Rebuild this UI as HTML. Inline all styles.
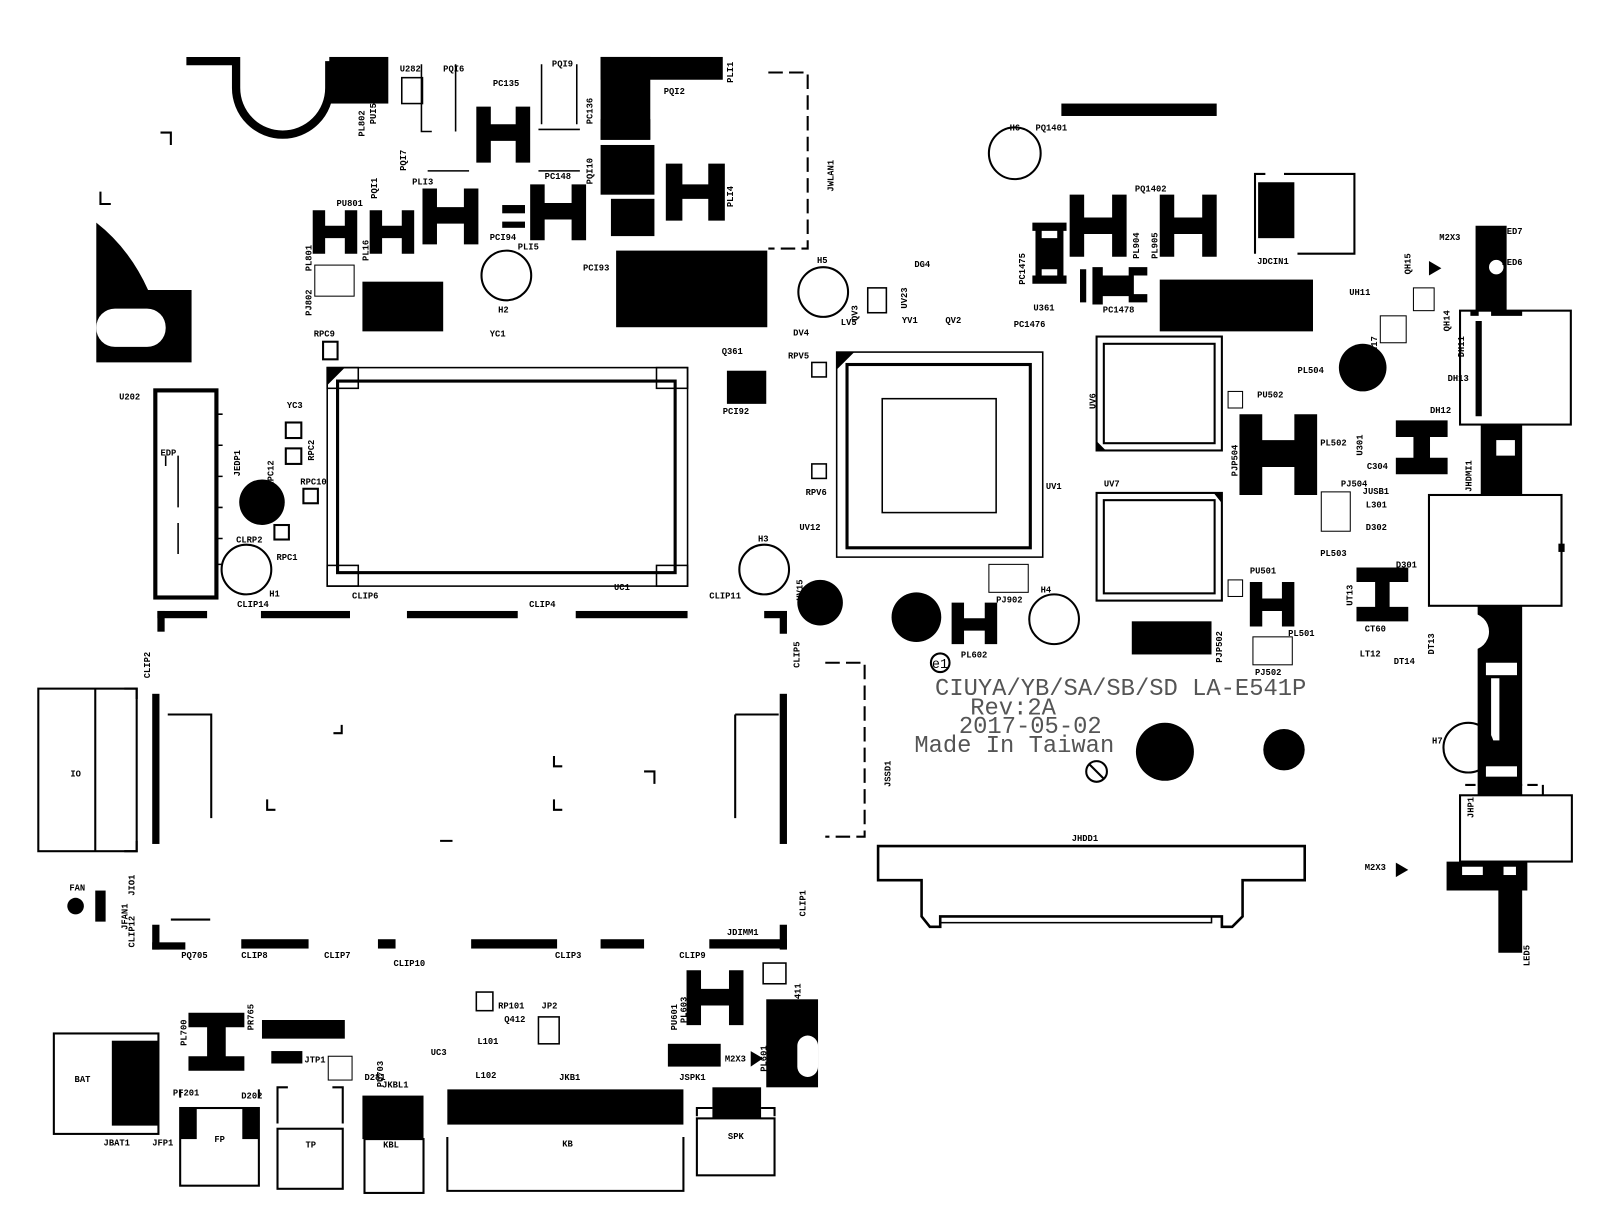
<!DOCTYPE html>
<html><head><meta charset="utf-8"><style>
html,body{margin:0;padding:0;background:#fff;}
svg{display:block}
text{font-family:"Liberation Mono",monospace;font-size:8.5px;font-weight:bold;fill:#000}
.big{font-family:"Liberation Mono",monospace;font-size:23px;font-weight:normal;fill:#555}
</style></head><body>
<svg width="1605" height="1224" viewBox="0 0 1550 1182" preserveAspectRatio="none" xmlns="http://www.w3.org/2000/svg">
<rect width="1550" height="1182" fill="#fff"/>
<g fill="#000" stroke="none">
<rect x="318" y="55" width="57" height="45"/>
<path d="M93 215 Q125 240 143 280 L185 280 L185 350 L93 350 Z"/>
<rect x="595" y="242" width="146" height="74"/>
<rect x="350" y="272" width="78" height="48"/>
<rect x="1120" y="270" width="148" height="50"/>
<rect x="1093" y="600" width="77" height="32"/>
<rect x="702" y="358" width="38" height="32"/>
<rect x="1025" y="100" width="150" height="12"/>
<rect x="580" y="55" width="118" height="22"/>
<rect x="580" y="55" width="48" height="80"/>
<rect x="580" y="115" width="48" height="20"/>
<rect x="580" y="140" width="52" height="48"/>
<rect x="590" y="192" width="42" height="36"/>
<rect x="485" y="198" width="22" height="8"/>
<rect x="485" y="214" width="22" height="6"/>
<rect x="1215" y="176" width="35" height="54"/>
<g>
<path d="M302 203h12v42h-12zM333 203h12v42h-12zM302 218h43v12h-43z"/>
<path d="M357 203h12v42h-12zM388 203h12v42h-12zM357 218h43v12h-43z"/>
<path d="M408 182h14v54h-14zM448 182h14v54h-14zM408 200h54v16h-54z"/>
<path d="M512 178h14v54h-14zM552 178h14v54h-14zM512 196h54v16h-54z"/>
<path d="M460 103h14v54h-14zM498 103h14v54h-14zM460 120h52v16h-52z"/>
<path d="M643 158h16v55h-16zM684 158h16v55h-16zM643 178h57v14h-57z"/>
<path d="M997 215h33v8h-33zM997 266h33v8h-33zM1000 222h6v46h-6zM1021 222h6v46h-6zM1003 230h22v30h-22z"/>
<path d="M1033 188h14v60h-14zM1074 188h14v60h-14zM1033 210h55v16h-55z"/>
<path d="M1120 188h14v60h-14zM1161 188h14v60h-14zM1120 210h55v16h-55z"/>
<path d="M1043 260h6v32h-6zM1055 258h10v36h-10zM1090 258h18v8h-18zM1090 284h18v8h-18zM1060 266h35v20h-35z"/>
<path d="M1197 400h22v78h-22zM1250 400h22v78h-22zM1197 425h75v26h-75z"/>
<path d="M1348 406h50v16h-50zM1348 442h50v16h-50zM1365 420h16v25h-16z"/>
<path d="M1207 562h12v43h-12zM1238 562h12v43h-12zM1207 578h43v12h-43z"/>
<path d="M919 582h12v40h-12zM951 582h12v40h-12zM919 597h44v12h-44z"/>
<path d="M1310 548h50v14h-50zM1310 586h50v14h-50zM1328 560h14v28h-14z"/>
<path d="M663 937h14v53h-14zM704 937h14v53h-14zM663 955h55v16h-55z"/>
<path d="M182 978h54v14h-54zM182 1020h54v14h-54zM200 990h18v32h-18z"/>
</g>
<circle cx="253" cy="485" r="22"/>
<circle cx="792" cy="582" r="22"/>
<circle cx="885" cy="596" r="24"/>
<circle cx="1125" cy="726" r="28"/>
<circle cx="1240" cy="724" r="20"/>
<circle cx="1316" cy="355" r="23"/>
<circle cx="73" cy="875" r="8"/>
<rect x="152" y="590" width="48" height="7"/><rect x="152" y="590" width="7" height="20"/>
<rect x="252" y="590" width="86" height="7"/>
<rect x="393" y="590" width="107" height="7"/>
<rect x="556" y="590" width="108" height="7"/>
<rect x="738" y="590" width="22" height="7"/><rect x="753" y="590" width="7" height="22"/>
<rect x="147" y="670" width="7" height="145"/>
<rect x="753" y="670" width="7" height="145"/>
<rect x="147" y="893" width="7" height="24"/><rect x="147" y="910" width="32" height="7"/>
<rect x="233" y="907" width="65" height="9"/>
<rect x="365" y="907" width="17" height="9"/>
<rect x="455" y="907" width="83" height="9"/>
<rect x="580" y="907" width="42" height="9"/>
<rect x="685" y="907" width="75" height="9"/><rect x="753" y="893" width="7" height="24"/>
<rect x="108" y="1005" width="45" height="82"/>
<rect x="253" y="985" width="80" height="18"/>
<rect x="262" y="1015" width="30" height="12"/>
<rect x="645" y="1008" width="51" height="22"/>
<rect x="432" y="1052" width="228" height="34"/>
<rect x="350" y="1058" width="59" height="42"/>
<rect x="688" y="1050" width="47" height="30"/>
<rect x="174" y="1070" width="16" height="30"/><rect x="234" y="1070" width="16" height="30"/>
<rect x="740" y="965" width="50" height="85"/>
<polygon points="725,1015 737,1022 725,1030"/>
<polygon points="1380,252 1392,259 1380,266"/>
<polygon points="1348,833 1360,840 1348,847"/>
<rect x="92" y="860" width="10" height="30"/>
<path d="M1425 218h30v82h-30zM1430 410h40v68h-40zM1427 585h43v183h-43zM1397 832h78v28h-78zM1447 860h23v60h-23zM1440 300h30v5h-30z"/>
<rect x="1420" y="300" width="8" height="5"/>
</g>
<g fill="#fff">
<rect x="93" y="298" width="67" height="37" rx="18"/>
<circle cx="1445" cy="258" r="7"/>
<rect x="1445" y="425" width="18" height="15"/>
<circle cx="1420" cy="610" r="18"/>
<rect x="1435" y="640" width="30" height="12"/>
<rect x="1440" y="655" width="8" height="60"/>
<rect x="1435" y="740" width="30" height="10"/>
<rect x="1412" y="837" width="20" height="8"/>
<rect x="1452" y="837" width="12" height="8"/>
<rect x="770" y="1000" width="20" height="40" rx="10"/>
</g>
<g fill="none" stroke="#000">
<path d="M180 59H228V85A45 45 0 0 0 318 85V59" stroke-width="8"/>
<path d="M155 128h10v12M97 185v12h10" stroke-width="2"/>
<rect x="150" y="377" width="59" height="200" stroke-width="4"/>
<path d="M210 400h5M210 430h5M210 460h5M210 490h5M210 520h5M210 545h5M172 440v50M172 505v30M160 440v10" stroke-width="1.5"/>
<circle cx="238" cy="550" r="24" stroke-width="2"/>
<circle cx="489" cy="266" r="24" stroke-width="2"/>
<circle cx="738" cy="550" r="24" stroke-width="2"/>
<circle cx="795" cy="282" r="24" stroke-width="2"/>
<circle cx="980" cy="148" r="25" stroke-width="2"/>
<circle cx="1018" cy="598" r="24" stroke-width="2"/>
<circle cx="1418" cy="722" r="24" stroke-width="2"/>
<circle cx="908" cy="640" r="9" stroke-width="2"/>
<circle cx="1059" cy="745" r="10" stroke-width="2"/>
<path d="M1052 738l14 14" stroke-width="2"/>
<rect x="316" y="355" width="348" height="211" stroke-width="1.5"/>
<rect x="326" y="368" width="326" height="185" stroke-width="3"/>
<rect x="316" y="355" width="30" height="20" stroke-width="1.5"/>
<rect x="634" y="355" width="30" height="20" stroke-width="1.5"/>
<rect x="316" y="546" width="30" height="20" stroke-width="1.5"/>
<rect x="634" y="546" width="30" height="20" stroke-width="1.5"/>
<rect x="808" y="340" width="199" height="198" stroke-width="1.5"/>
<rect x="818" y="352" width="177" height="177" stroke-width="3"/>
<rect x="852" y="385" width="110" height="110" stroke-width="1.5"/>
<rect x="1059" y="325" width="121" height="110" stroke-width="2"/>
<rect x="1066" y="332" width="107" height="96" stroke-width="2"/>
<rect x="1059" y="476" width="121" height="104" stroke-width="2"/>
<rect x="1066" y="483" width="107" height="90" stroke-width="2"/>
<path d="M1222 168h-10v77M1240 168h68v77h-55" stroke-width="2"/>
<path d="M742 70h38v170h-38" stroke-width="2" stroke-dasharray="14 6"/>
<path d="M797 640h38v168h-38" stroke-width="2" stroke-dasharray="14 6"/>
<path d="M848 817H1260V850H1200V885L1190 895H1180V885H908V895H898L890 885V850H848Z" stroke-width="2.5"/>
<rect x="908" y="885" width="262" height="6" stroke-width="1.5"/>
<rect x="37" y="665" width="95" height="157" stroke-width="2"/>
<path d="M92 665v157M120 665h12v10M120 822h12v-10" stroke-width="2"/>
<path d="M162 690h42v100M710 690h42M710 690v100M330 700v8h-8M258 772v10h8M535 730v10h8M622 745h10v12M535 772v10h8M425 812h12M165 888h38" stroke-width="2"/>
<rect x="52" y="998" width="101" height="97" stroke-width="2"/>
<rect x="174" y="1070" width="76" height="75" stroke-width="2"/>
<path d="M174 1060v-8M250 1060v-8" stroke-width="2"/>
<rect x="268" y="1090" width="63" height="58" stroke-width="2"/>
<path d="M268 1085v-35h10M331 1085v-35h-10" stroke-width="2"/>
<rect x="352" y="1100" width="57" height="52" stroke-width="2"/>
<path d="M432 1098v52h228v-52" stroke-width="2"/>
<rect x="673" y="1080" width="75" height="55" stroke-width="2"/>
<path d="M673 1078v-8h15M748 1078v-8h-13" stroke-width="2"/>
<rect x="317" y="1020" width="23" height="23" stroke-width="1"/>
<rect x="312" y="330" width="14" height="17" stroke-width="2"/>
<rect x="276" y="408" width="15" height="15" stroke-width="2"/>
<rect x="276" y="433" width="15" height="15" stroke-width="2"/>
<rect x="293" y="472" width="14" height="14" stroke-width="2"/>
<rect x="265" y="507" width="14" height="14" stroke-width="2"/>
<rect x="388" y="75" width="20" height="25" stroke-width="1.5"/>
<rect x="304" y="256" width="38" height="30" stroke-width="1"/>
<rect x="838" y="278" width="18" height="24" stroke-width="1.5"/>
<rect x="784" y="350" width="14" height="14" stroke-width="1.5"/>
<rect x="784" y="448" width="14" height="14" stroke-width="1.5"/>
<rect x="955" y="545" width="38" height="27" stroke-width="1"/>
<rect x="1276" y="475" width="28" height="38" stroke-width="1"/>
<rect x="1210" y="615" width="38" height="27" stroke-width="1"/>
<rect x="1186" y="378" width="14" height="16" stroke-width="1"/>
<rect x="1186" y="560" width="14" height="16" stroke-width="1"/>
<rect x="1365" y="278" width="20" height="22" stroke-width="1"/>
<rect x="1333" y="305" width="25" height="26" stroke-width="1"/>
<rect x="520" y="982" width="20" height="26" stroke-width="1.5"/>
<rect x="737" y="930" width="22" height="20" stroke-width="1.5"/>
<rect x="460" y="958" width="16" height="18" stroke-width="1.5"/>
<path d="M407 62v65h10M440 62v65M523 62v58M557 62v58M413 165h40M520 165h40M520 125h40" stroke-width="1.5"/>
<rect x="1410" y="300" width="107" height="110" stroke-width="2"/>
<path d="M1428 310v92" stroke-width="6"/>
<rect x="1380" y="478" width="128" height="107" stroke-width="2"/>
<path d="M1508 525v8" stroke-width="6"/>
<rect x="1410" y="768" width="108" height="64" stroke-width="2"/>
<path d="M1490 768v-10h-80" stroke-width="2" stroke-dasharray="10 5"/>
</g>
<g fill="#000"><polygon points="316,372 316,355 333,355"/><polygon points="808,357 808,340 825,340"/><polygon points="1180,476 1180,486 1172,476"/><polygon points="1059,435 1068,435 1059,426"/></g>
<g>
<text x="386" y="69">U282</text><text x="428" y="69">PQI6</text><text x="533" y="64">PQI9</text><text x="677" y="62">PLI2</text><text x="641" y="91">PQI2</text>
<text x="476" y="83">PC135</text><text x="526" y="173">PC148</text><text x="398" y="178">PLI3</text><text x="325" y="199">PU801</text>
<text x="473" y="232">PCI94</text><text x="500" y="241">PLI5</text><text x="563" y="261">PCI93</text><text x="481" y="302">H2</text>
<text x="303" y="325">RPC9</text><text x="473" y="325">YC1</text><text x="277" y="394">YC3</text><text x="115" y="386">U202</text>
<text x="155" y="440">EDP</text><text x="290" y="468">RPC10</text><text x="228" y="524">CLRP2</text><text x="267" y="541">RPC1</text>
<text x="260" y="576">H1</text><text x="229" y="586">CLIP14</text><text x="340" y="578">CLIP6</text><text x="511" y="586">CLIP4</text><text x="593" y="570">UC1</text>
<text x="685" y="578">CLIP11</text><text x="732" y="523">H3</text><text x="772" y="512">UV12</text><text x="697" y="342">Q361</text><text x="698" y="400">PCI92</text>
<text x="766" y="324">DV4</text><text x="761" y="346">RPV5</text><text x="778" y="478">RPV6</text><text x="789" y="254">H5</text><text x="812" y="314">LV5</text>
<text x="871" y="312">YV1</text><text x="913" y="312">QV2</text><text x="883" y="258">DG4</text><text x="979" y="316">PC1476</text><text x="998" y="300">U361</text>
<text x="1010" y="472">UV1</text><text x="962" y="582">PJ902</text><text x="1005" y="572">H4</text><text x="928" y="635">PL602</text>
<text x="975" y="126">H6</text><text x="1000" y="126">PQ1401</text><text x="1096" y="185">PQ1402</text><text x="1065" y="302">PC1478</text><text x="1214" y="255">JDCIN1</text>
<text x="1066" y="470">UV7</text><text x="1214" y="384">PU502</text><text x="1253" y="360">PL504</text><text x="1275" y="430">PL502</text><text x="1295" y="470">PJ504</text>
<text x="1207" y="554">PU501</text><text x="1275" y="537">PL503</text><text x="1244" y="614">PL501</text><text x="1212" y="652">PJ502</text>
<text x="1320" y="453">C304</text><text x="1316" y="477">JUSB1</text><text x="1319" y="490">L301</text><text x="1319" y="512">D302</text><text x="1348" y="548">D301</text>
<text x="1318" y="610">CT60</text><text x="1313" y="634">LT12</text><text x="1346" y="641">DT14</text><text x="1303" y="285">UH11</text><text x="1390" y="232">M2X3</text>
<text x="1450" y="226">LED7</text><text x="1450" y="256">LED6</text><text x="1381" y="399">DH12</text><text x="1398" y="368">DH13</text><text x="1383" y="718">H7</text>
<text x="1035" y="812">JHDD1</text><text x="1318" y="840">M2X3</text><text x="67" y="860">FAN</text><text x="68" y="750">IO</text>
<text x="175" y="925">PQ705</text><text x="233" y="925">CLIP8</text><text x="313" y="925">CLIP7</text><text x="380" y="933">CLIP10</text><text x="536" y="925">CLIP3</text>
<text x="656" y="925">CLIP9</text><text x="702" y="903">JDIMM1</text><text x="481" y="974">RP101</text><text x="523" y="974">JP2</text><text x="487" y="987">Q412</text>
<text x="461" y="1008">L101</text><text x="416" y="1019">UC3</text><text x="459" y="1041">L102</text><text x="540" y="1043">JKB1</text><text x="656" y="1043">JSPK1</text>
<text x="700" y="1025">M2X3</text><text x="296" y="1003">PL704</text><text x="294" y="1026">JTP1</text><text x="352" y="1043">D281</text><text x="369" y="1050">JKBL1</text>
<text x="167" y="1058">PF201</text><text x="233" y="1061">D202</text><text x="72" y="1045">BAT</text><text x="100" y="1106">JBAT1</text><text x="147" y="1106">JFP1</text>
<text x="207" y="1103">FP</text><text x="295" y="1108">TP</text><text x="370" y="1108">KBL</text><text x="543" y="1107">KB</text><text x="703" y="1100">SPK</text>
<text x="900" y="645" style="font-size:13px;font-weight:normal">e1</text>
</g>
<g>
<text transform="translate(352,112) rotate(-90)" x="-20" y="0">PL802</text>
<text transform="translate(363,100) rotate(-90)" x="-20" y="0">PUI5</text>
<text transform="translate(392,145) rotate(-90)" x="-20" y="0">PQI7</text>
<text transform="translate(364,172) rotate(-90)" x="-20" y="0">PQI1</text>
<text transform="translate(301,242) rotate(-90)" x="-20" y="0">PL801</text>
<text transform="translate(356,232) rotate(-90)" x="-20" y="0">PL16</text>
<text transform="translate(301,285) rotate(-90)" x="-20" y="0">PJ802</text>
<text transform="translate(572,100) rotate(-90)" x="-20" y="0">PC136</text>
<text transform="translate(572,158) rotate(-90)" x="-20" y="0">PQI10</text>
<text transform="translate(708,70) rotate(-90)" x="-10" y="0">PLI1</text>
<text transform="translate(708,190) rotate(-90)" x="-10" y="0">PLI4</text>
<text transform="translate(805,165) rotate(-90)" x="-20" y="0">JWLAN1</text>
<text transform="translate(232,440) rotate(-90)" x="-20" y="0">JEDP1</text>
<text transform="translate(264,450) rotate(-90)" x="-20" y="0">RPC12</text>
<text transform="translate(303,425) rotate(-90)" x="-20" y="0">RPC2</text>
<text transform="translate(145,635) rotate(-90)" x="-20" y="0">CLIP2</text>
<text transform="translate(772,625) rotate(-90)" x="-20" y="0">CLIP5</text>
<text transform="translate(775,560) rotate(-90)" x="-20" y="0">UV15</text>
<text transform="translate(828,290) rotate(-90)" x="-20" y="0">QV3</text>
<text transform="translate(876,278) rotate(-90)" x="-20" y="0">UV23</text>
<text transform="translate(990,255) rotate(-90)" x="-20" y="0">PC1475</text>
<text transform="translate(1100,230) rotate(-90)" x="-20" y="0">PL904</text>
<text transform="translate(1118,230) rotate(-90)" x="-20" y="0">PL905</text>
<text transform="translate(1058,375) rotate(-90)" x="-20" y="0">UV6</text>
<text transform="translate(1195,440) rotate(-90)" x="-20" y="0">PJP504</text>
<text transform="translate(1180,620) rotate(-90)" x="-20" y="0">PJP502</text>
<text transform="translate(1316,420) rotate(-90)" x="-20" y="0">U301</text>
<text transform="translate(1306,565) rotate(-90)" x="-20" y="0">UT13</text>
<text transform="translate(1362,245) rotate(-90)" x="-20" y="0">QH15</text>
<text transform="translate(1330,325) rotate(-90)" x="-20" y="0">QH17</text>
<text transform="translate(1400,300) rotate(-90)" x="-20" y="0">QH14</text>
<text transform="translate(1414,325) rotate(-90)" x="-20" y="0">DH11</text>
<text transform="translate(1421,455) rotate(-90)" x="-20" y="0">JHDMI1</text>
<text transform="translate(1385,612) rotate(-90)" x="-20" y="0">DT13</text>
<text transform="translate(1423,770) rotate(-90)" x="-20" y="0">JHP1</text>
<text transform="translate(1477,913) rotate(-90)" x="-20" y="0">LED5</text>
<text transform="translate(860,740) rotate(-90)" x="-20" y="0">JSSD1</text>
<text transform="translate(130,845) rotate(-90)" x="-20" y="0">JIO1</text>
<text transform="translate(123,878) rotate(-90)" x="-20" y="0">JFAN1</text>
<text transform="translate(130,895) rotate(-90)" x="-20" y="0">CLIP12</text>
<text transform="translate(778,865) rotate(-90)" x="-20" y="0">CLIP1</text>
<text transform="translate(180,990) rotate(-90)" x="-20" y="0">PL700</text>
<text transform="translate(245,975) rotate(-90)" x="-20" y="0">PR765</text>
<text transform="translate(370,1030) rotate(-90)" x="-20" y="0">PU703</text>
<text transform="translate(663,968) rotate(-90)" x="-20" y="0">PL603</text>
<text transform="translate(654,975) rotate(-90)" x="-20" y="0">PU601</text>
<text transform="translate(740,1015) rotate(-90)" x="-20" y="0">PL601</text>
<text transform="translate(773,950) rotate(-90)" x="-20" y="0">Q411</text>
</g>
<text class="big" x="903" y="671">CIUYA/YB/SA/SB/SD LA-E541P</text>
<text class="big" x="937" y="690">Rev:2A</text>
<text class="big" x="926" y="708">2017-05-02</text>
<text class="big" x="883" y="726">Made In Taiwan</text>
</svg>
</body></html>
